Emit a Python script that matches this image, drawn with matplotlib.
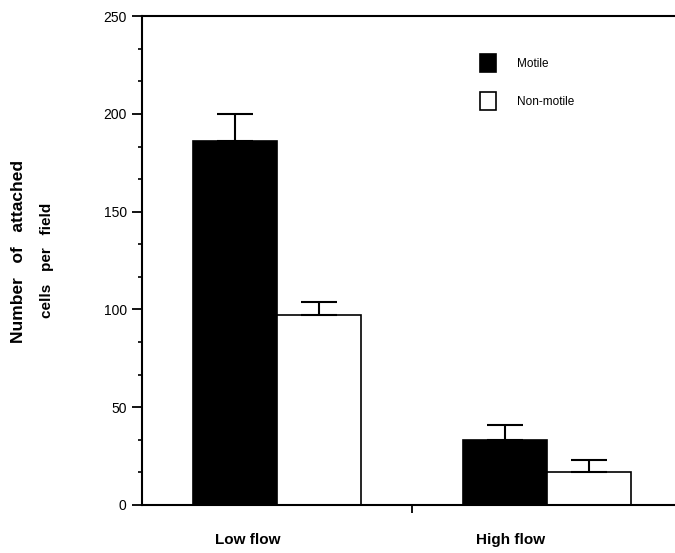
import numpy as np
import matplotlib.pyplot as plt
from matplotlib.ticker import MultipleLocator

plt.rcParams['font.family'] = ['Liberation Sans', 'DejaVu Sans']

# dados
grupos = ['Low flow', 'High flow']
motile = [186, 33]
motile_err = [14, 8]
nonmotile = [97, 17]
nonmotile_err = [7, 6]

fig = plt.figure(figsize=(6.75, 5.53), dpi=100)
ax = fig.add_axes([0.2104, 0.0868, 0.7896, 0.884])

x = np.arange(len(grupos))
w = 0.31
ax.bar(x - w/2, motile, w, color='black', edgecolor='black', linewidth=1.2,
       label='Motile', zorder=2)
ax.bar(x + w/2, nonmotile, w, color='white', edgecolor='black', linewidth=1.2,
       label='Non-motile', zorder=2)
ax.errorbar(x - w/2, motile, yerr=[np.zeros(2), motile_err], fmt='none',
            ecolor='black', elinewidth=1.5, capsize=13, capthick=1.5, zorder=3)
ax.errorbar(x + w/2, nonmotile, yerr=[np.zeros(2), nonmotile_err], fmt='none',
            ecolor='black', elinewidth=1.5, capsize=13, capthick=1.5, zorder=3)

ax.set_xlim(-0.5, 1.474)
ax.set_ylim(0, 250)
ax.yaxis.set_major_locator(MultipleLocator(50))
ax.yaxis.set_minor_locator(MultipleLocator(50/3))
ax.set_xticks([0.5])
ax.set_xticklabels([''])
ax.tick_params(axis='y', which='major', length=7, width=1.3, labelsize=10, pad=4)
ax.tick_params(axis='y', which='minor', length=3, width=1.2)
ax.tick_params(axis='x', length=6, width=1.3)

for s in ['left', 'top', 'bottom']:
    ax.spines[s].set_linewidth(1.5)
ax.spines['right'].set_visible(False)

offs = [-0.11, -0.135]
for i, g in enumerate(grupos):
    ax.text(x[i] + offs[i], -0.072, g, transform=ax.get_xaxis_transform(),
            ha='center', va='center', fontsize=11, fontweight='bold')

fig.text(0.027, 0.545, 'Number   of   attached', rotation=90, ha='center',
         va='center', fontsize=12.5, fontweight='bold')
fig.text(0.07, 0.53, 'cells   per   field', rotation=90, ha='center',
         va='center', fontsize=11, fontweight='bold')

ax.legend(loc='upper left', bbox_to_anchor=(0.615, 0.945), frameon=False,
          fontsize=8.5, handlelength=1.3, handleheight=2.0, labelspacing=1.7,
          handletextpad=1.8)

fig.savefig('out.png', dpi=100)
